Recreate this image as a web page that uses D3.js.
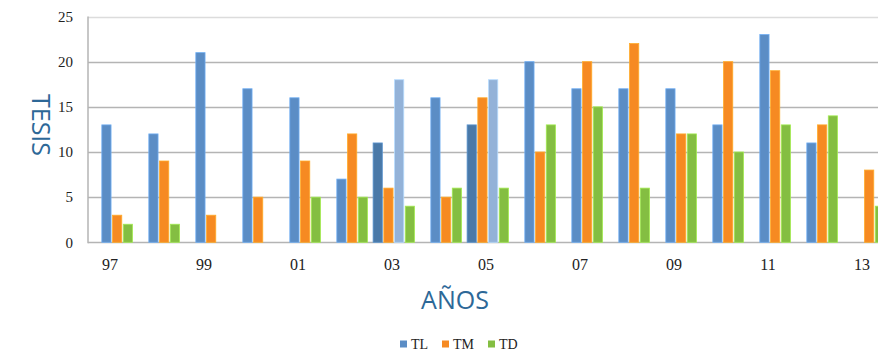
<!DOCTYPE html>
<html><head><meta charset="utf-8">
<script src="https://cdn.jsdelivr.net/npm/d3@7"></script>
<style>body{margin:0;background:#fff;overflow:hidden}svg{display:block}</style>
</head><body>
<svg id="chart" width="878" height="352"></svg>
<script>
const years = [1997,1998,1999,2000,2001,2002,2003,2004,2005,2006,2007,2008,2009,2010,2011,2012,2013];
const yearLabels = ["97","98","99","00","01","02","03","04","05","06","07","08","09","10","11","12","13"];
const TL  = [13,12,21,17,16,7,11,16,13,20,17,17,17,13,23,11,null];
const TLb = [null,null,null,null,null,null,18,null,18,null,null,null,null,null,null,null,null];
const TM  = [3,9,3,5,9,12,6,5,16,10,20,22,12,20,19,13,8];
const TD  = [2,2,null,null,5,5,4,6,6,13,15,6,12,10,13,14,4];
const shiftedYears = [2003,2005];
const yTicks = [0,5,10,15,20,25];
const legendNames = ["TL","TM","TD"];

const colors = {TL:"#5B8DC5", TLdark:"#4A79A8", TLb:"#93B2D8", TM:"#F68A22", TD:"#84BE42"};

const svg = d3.select("#chart");
const x = d3.scaleBand().domain(years).range([86.5, 86.5 + 47*years.length]).padding(0);
const sub = d3.scaleBand().domain(["pre","s1","s2","s3"]).range([4.6, 46]).paddingInner(0.14).paddingOuter(0);
const y = d3.scaleLinear().domain([0,25]).range([242.3, 16.5]);

// gridlines
svg.append("g").selectAll("line").data(yTicks).join("line")
  .attr("x1", 88).attr("x2", 900)
  .attr("y1", d => Math.round(y(d)) + 0.5).attr("y2", d => Math.round(y(d)) + 0.5)
  .attr("stroke", d => d === 25 ? "#dcdcdc" : "#b4b4b4").attr("stroke-width", 1.6);
// left axis line
svg.append("line").attr("x1", 88).attr("x2", 88).attr("y1", y(25)).attr("y2", y(0)+1)
  .attr("stroke", "#b4b4b4").attr("stroke-width", 1.5);

// bars
const bars = [];
years.forEach((yr, i) => {
  const shifted = shiftedYears.includes(yr);
  if (TL[i] != null) bars.push({yr, v: TL[i], slot: shifted ? "pre" : "s1", c: shifted ? colors.TLdark : colors.TL});
  if (TM[i] != null) bars.push({yr, v: TM[i], slot: shifted ? "s1" : "s2", c: colors.TM});
  if (TLb[i] != null) bars.push({yr, v: TLb[i], slot: "s2", c: colors.TLb});
  if (TD[i] != null) bars.push({yr, v: TD[i], slot: "s3", c: colors.TD});
});
svg.append("g").selectAll("rect").data(bars).join("rect")
  .attr("x", d => x(d.yr) + sub(d.slot))
  .attr("width", sub.bandwidth())
  .attr("y", d => y(d.v))
  .attr("height", d => y(0) - y(d.v))
  .attr("fill", d => d.c)
  .attr("stroke", d => d3.color(d.c).brighter(0.6))
  .attr("stroke-width", 0.8);

// y tick labels
svg.append("g").selectAll("text").data(yTicks).join("text")
  .attr("x", 73).attr("y", d => y(d)).attr("dy", "0.35em")
  .attr("text-anchor", "end")
  .attr("font-family", "Liberation Serif, serif").attr("font-size", 15).attr("fill", "#222")
  .text(d => d);

// x tick labels (every other)
svg.append("g").selectAll("text").data(years.filter((d,i) => i % 2 === 0)).join("text")
  .attr("x", d => x(d) + x.bandwidth()/2).attr("y", 270)
  .attr("text-anchor", "middle")
  .attr("font-family", "Liberation Serif, serif").attr("font-size", 16).attr("fill", "#222")
  .text(d => yearLabels[years.indexOf(d)]);

// axis titles
svg.append("text").attr("transform", "translate(32,125) rotate(90)")
  .attr("text-anchor", "middle").attr("font-family", "Open Sans, sans-serif")
  .attr("font-size", 25).attr("fill", "#2D6897").text("TESIS");
svg.append("text").attr("x", 455).attr("y", 309)
  .attr("text-anchor", "middle").attr("font-family", "Open Sans, sans-serif")
  .attr("font-size", 25).attr("fill", "#2D6897").text("AÑOS");

// legend
const legX = [400, 442, 488];
const legC = [colors.TL, colors.TM, colors.TD];
const lg = svg.append("g");
legendNames.forEach((n, i) => {
  lg.append("rect").attr("x", legX[i]).attr("y", 340.5).attr("width", 7).attr("height", 7).attr("fill", legC[i]);
  lg.append("text").attr("x", legX[i] + 11).attr("y", 349)
    .attr("font-family", "Liberation Serif, serif").attr("font-size", 14).attr("fill", "#222").text(n);
});
</script>
</body></html>
